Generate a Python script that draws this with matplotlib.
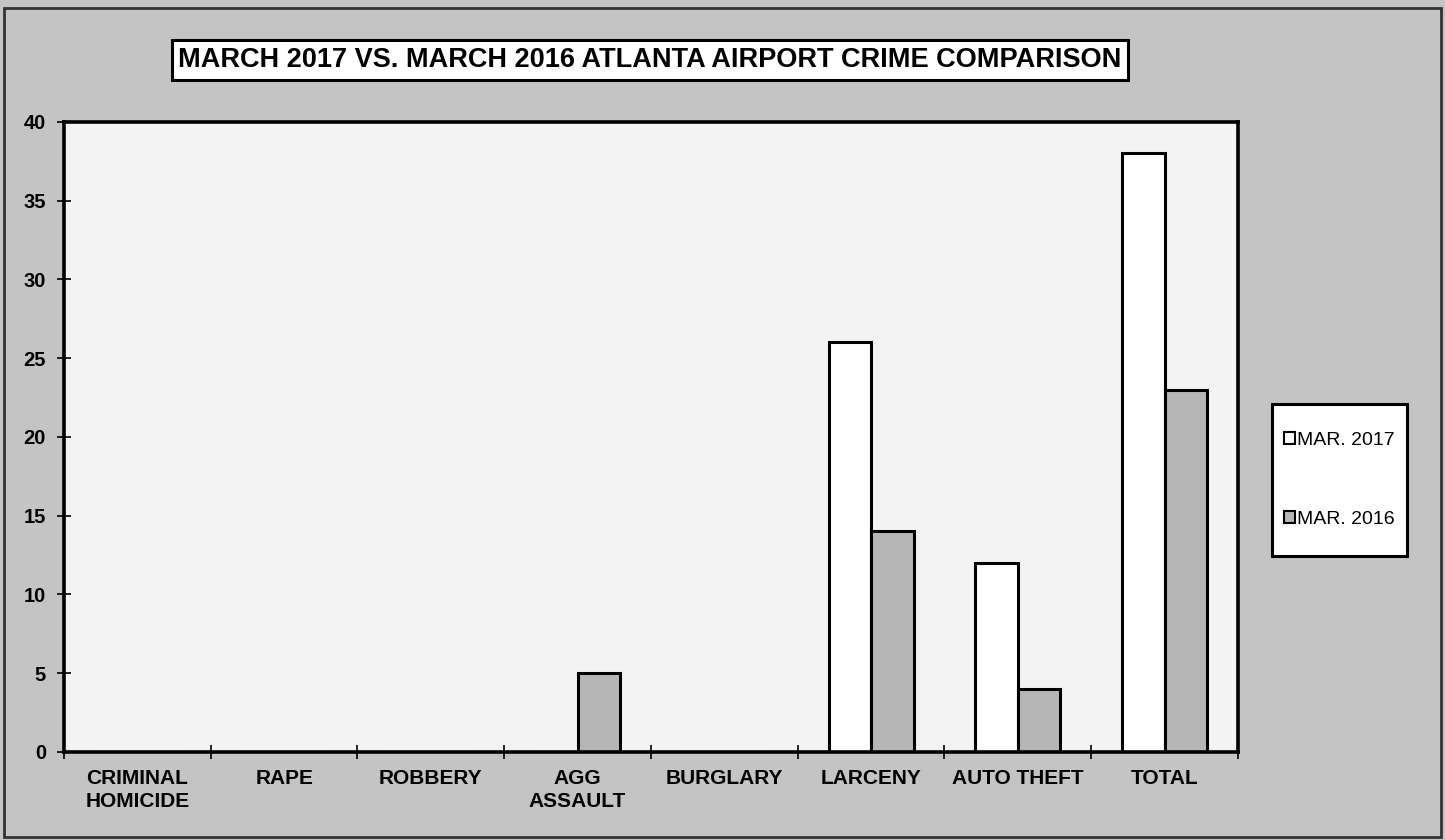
import numpy as np
import matplotlib.pyplot as plt
from matplotlib.patches import Rectangle

categories = ['CRIMINAL\nHOMICIDE', 'RAPE', 'ROBBERY', 'AGG\nASSAULT', 'BURGLARY',
              'LARCENY', 'AUTO THEFT', 'TOTAL']
mar_2017 = [0, 0, 0, 0, 0, 26, 12, 38]
mar_2016 = [0, 0, 0, 5, 0, 14, 4, 23]
series_labels = ['MAR. 2017', 'MAR. 2016']

plt.rcParams['font.family'] = ['Liberation Sans', 'DejaVu Sans']

fig = plt.figure(figsize=(14.45, 8.4), dpi=100, facecolor='#c4c4c4')
ax = fig.add_axes([0.0443, 0.1048, 0.8124, 0.75])
ax.set_facecolor('#f3f3f3')

x = np.arange(len(categories)) + 0.5
w = 0.29
ax.bar(x - w / 2, mar_2017, w, color='white', edgecolor='black', linewidth=2.2,
       label=series_labels[0])
ax.bar(x + w / 2, mar_2016, w, color='#b6b6b6', edgecolor='black', linewidth=2.2,
       label=series_labels[1])

ax.set_xlim(0, len(categories))
ax.set_ylim(0, 40)
ax.set_yticks(range(0, 41, 5))
ax.set_yticklabels([str(v) for v in range(0, 41, 5)], fontsize=14.5, fontweight='bold')
ax.set_xticks(np.arange(len(categories) + 1))
ax.set_xticklabels([])
ax.set_xticks(x, minor=True)
ax.set_xticklabels(categories, minor=True, fontsize=15, fontweight='bold', linespacing=1.3)
ax.tick_params(axis='x', which='minor', length=0, pad=12)
ax.tick_params(axis='x', which='major', direction='inout', length=10, width=1.2)
ax.tick_params(axis='y', direction='inout', length=10, width=1.2, pad=8)
for s in ax.spines.values():
    s.set_linewidth(2.6)
    s.set_zorder(5)

# legend frame drawn separately so the box can be taller than it is wide
fig.patches.append(Rectangle((0.8803, 0.3381), 0.0934, 0.181, transform=fig.transFigure,
                             fc='white', ec='black', lw=2.2))
leg = fig.legend(handles=[Rectangle((0, 0), 1, 1, fc='white', ec='black', lw=1.5),
                          Rectangle((0, 0), 1, 1, fc='#b6b6b6', ec='black', lw=1.5)],
                 labels=series_labels, loc='center', bbox_to_anchor=(0.927, 0.4286),
                 fontsize=14, frameon=False, handlelength=0.55, handleheight=0.55,
                 handletextpad=0.1, labelspacing=3.2, borderpad=0, borderaxespad=0)

fig.text(0.4498, 0.9283, 'MARCH 2017 VS. MARCH 2016 ATLANTA AIRPORT CRIME COMPARISON',
         ha='center', va='center', fontsize=19.5, fontweight='bold',
         bbox=dict(boxstyle='square,pad=0.25', fc='white', ec='black', lw=2.2))

fig.patches.append(Rectangle((0.003, 0.003), 0.994, 0.987, transform=fig.transFigure,
                             fill=False, ec='#333333', lw=2))

fig.savefig('out.png', dpi=100, facecolor=fig.get_facecolor())
